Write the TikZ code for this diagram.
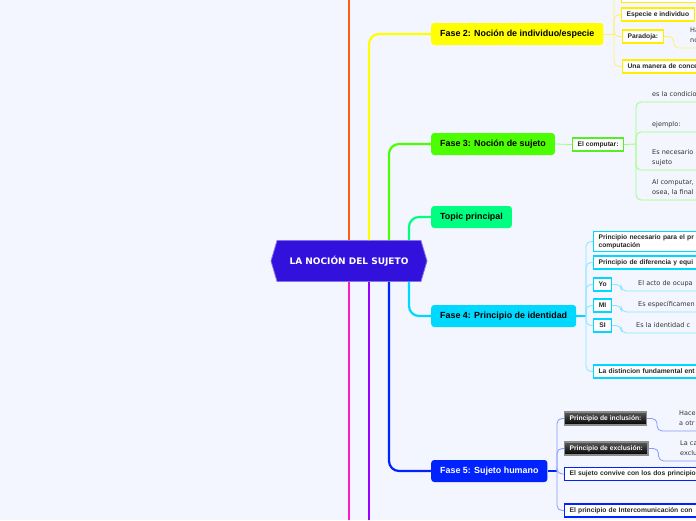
\documentclass[tikz,border=0pt]{standalone}
\usepackage{fontspec}
\setmainfont{Liberation Sans}
\newfontfamily\verdfont{DejaVu Sans}
\usetikzlibrary{positioning,shapes.symbols}

\definecolor{bgcol}{HTML}{F3F6FE}
\definecolor{rootcol}{HTML}{3311DD}
\definecolor{orangeC}{HTML}{FF5A1A}
\definecolor{yellowC}{HTML}{FFFF00}
\definecolor{yellowB}{HTML}{FFEE00}
\definecolor{yellowL}{HTML}{FFF070}
\definecolor{greenC}{HTML}{4CFF00}
\definecolor{greenB}{HTML}{55EE22}
\definecolor{greenL}{HTML}{99FF77}
\definecolor{topicC}{HTML}{00FF80}
\definecolor{cyanC}{HTML}{00D9FF}
\definecolor{cyanL}{HTML}{88E6FF}
\definecolor{blueC}{HTML}{0022FF}
\definecolor{blueL}{HTML}{8899FF}
\definecolor{purpleC}{HTML}{9900FF}
\definecolor{magentaC}{HTML}{FF1AC6}
\definecolor{textC}{HTML}{333333}

\tikzset{
  rootnode/.style={signal, signal to=west and east, signal pointer angle=147,
    fill=rootcol, draw=rootcol!60!white, line width=0.8pt,
    minimum width=156pt, minimum height=41pt, text=white,
    font=\verdfont\bfseries\fontsize{9}{10}\selectfont},
  trunk/.style={line width=2.2pt, rounded corners=10pt},
  twig/.style={line width=0.8pt, rounded corners=5pt},
  fase/.style={rounded corners=3pt, anchor=west, minimum height=22pt,
    inner xsep=9pt, text=black, font=\bfseries\fontsize{8.9}{10}\selectfont},
  subbox/.style={draw, fill=white, line width=1.2pt, anchor=west,
    inner xsep=5pt, inner ysep=3pt, minimum height=13pt, align=left,
    text=black!85, font=\bfseries\fontsize{6.7}{8}\selectfont},
  darkbox/.style={subbox, top color=black!65, bottom color=black,
    draw=black!45, text=white},
  note/.style={anchor=south west, inner xsep=4pt, inner ysep=2.5pt,
    text width=70pt, align=left, text=textC,
    font=\verdfont\fontsize{6.5}{9.5}\selectfont,
    execute at end node={\strut}}
}

\begin{document}
\begin{tikzpicture}[x=1pt,y=-1pt]
  \useasboundingbox (0,0) rectangle (696,520);
  \fill[bgcol] (0,0) rectangle (696,520);

  % central topic and main topics
  \node[rootnode] (root) at (349,261) {LA NOCIÓN DEL SUJETO};
  \node[fase, fill=yellowC] (f2) at (431,34) {Fase 2: Noción de individuo/especie};
  \node[fase, fill=greenC] (f3) at (431,144) {Fase 3: Noción de sujeto};
  \node[fase, fill=topicC] (topic) at (431,217) {Topic principal};
  \node[fase, fill=cyanC] (f4) at (431,316) {Fase 4: Principio de identidad};
  \node[fase, fill=blueC, text=white] (f5) at (431,471) {Fase 5: Sujeto humano};

  \coordinate (topO) at (349,0);
  \coordinate (botM) at (349,520);
  \coordinate (botP) at (369,520);

  \draw[trunk, orangeC, line width=2.6pt] (root.north) -- (topO);
  \draw[trunk, yellowC] ([xshift=20pt]root.north) |- (f2.west);
  \draw[trunk, greenC] ([xshift=40pt]root.north) |- (f3.west);
  \draw[trunk, topicC] ([xshift=60pt]root.north) |- (topic.west);
  \draw[trunk, cyanC] ([xshift=60pt]root.south) |- (f4.west);
  \draw[trunk, blueC] ([xshift=40pt]root.south) |- (f5.west);
  \draw[trunk, purpleC] ([xshift=20pt]root.south) -- (botP);
  \draw[trunk, magentaC] (root.south) -- (botM);

  % Fase 2
  \coordinate (j2) at (614,34);
  \node[subbox, draw=yellowB, anchor=south west, minimum width=80pt] (e0) at (621,3) {};
  \node[subbox, draw=yellowB] (especie) at (621,14.5) {Especie e individuo};
  \node[subbox, draw=yellowB] (paradoja) at (622,36.5) {Paradoja:};
  \node[subbox, draw=yellowB, text width=90pt] (una) at (622,66.5) {Una manera de conce};
  \node[note] (paraT) at (686,48) {Ha\\no};
  \draw[twig, yellowL] (f2.east) -- (j2);
  \foreach \c in {e0,especie,paradoja,una}
    \draw[twig, yellowL] (j2) |- (\c.west);
  \draw[twig, yellowL] (paradoja.east) -- ++(10,0) |- (paraT.south west) -- (paraT.south east);

  % Fase 3
  \node[subbox, draw=greenB] (comp) at (572,144.5) {El computar:};
  \coordinate (j3) at (636,144);
  \node[note] (ct1) at (648,102) {es la condicio};
  \node[note] (ct2) at (648,132) {ejemplo:};
  \node[note] (ct3) at (648,170) {Es necesario\\sujeto};
  \node[note] (ct4) at (648,200) {Al computar,\\osea, la final};
  \draw[twig, greenL] (f3.east) -- (comp.west);
  \draw[twig, greenL] (comp.east) -- (j3);
  \foreach \t in {ct1,ct2,ct3,ct4}
    \draw[twig, greenL] (j3) |- (\t.south west) -- (\t.south east);

  % Fase 4
  \coordinate (j4) at (586,316);
  \node[subbox, draw=cyanC, text width=110pt] (pnec) at (593,241.5) {Principio necesario para el pr\\computación};
  \node[subbox, draw=cyanC, text width=110pt] (pdif) at (593,262.5) {Principio de diferencia y equi};
  \node[subbox, draw=cyanC, minimum width=18pt] (yo) at (593,284.5) {Yo};
  \node[subbox, draw=cyanC, minimum width=18pt] (mi) at (593,305.5) {MI};
  \node[subbox, draw=cyanC, minimum width=18pt] (si) at (593,325.5) {SI};
  \node[subbox, draw=cyanC, text width=110pt] (dist) at (593,371.5) {La distincion fundamental ent};
  \node[note] (yoT) at (634,291) {El acto de ocupa};
  \node[note] (miT) at (634,312) {Es específicamen};
  \node[note] (siT) at (632,333) {Es la identidad c};
  \draw[twig, cyanC, line width=1.4pt] (f4.east) -- (j4);
  \foreach \c in {pnec,pdif,yo,mi,si,dist}
    \draw[twig, cyanL] (j4) |- (\c.west);
  \foreach \b/\t in {yo/yoT,mi/miT,si/siT}
    \draw[twig, cyanL] (\b.east) -- ++(9,0) |- (\t.south west) -- (\t.south east);

  % Fase 5
  \coordinate (j5) at (557,471);
  \node[darkbox] (inc) at (564,418.5) {Principio de inclusión:};
  \node[darkbox] (exc) at (564,448.5) {Principio de exclusión:};
  \node[subbox, draw=blueC, text width=140pt] (conv) at (564,474) {El sujeto convive con los dos principio};
  \node[subbox, draw=blueC, text width=140pt] (inter) at (564,510.5) {El principio de Intercomunicación con};
  \node[note] (incT) at (675,431) {Hace\\a otr};
  \node[note] (excT) at (676,461) {La ca\\exclu};
  \draw[twig, blueC, line width=1.4pt] (f5.east) -- (j5);
  \foreach \c in {inc,exc,conv,inter}
    \draw[twig, blueL] (j5) |- (\c.west);
  \foreach \b/\t in {inc/incT,exc/excT}
    \draw[twig, blueL] (\b.east) -- ++(10,0) |- (\t.south west) -- (\t.south east);
\end{tikzpicture}
\end{document}
